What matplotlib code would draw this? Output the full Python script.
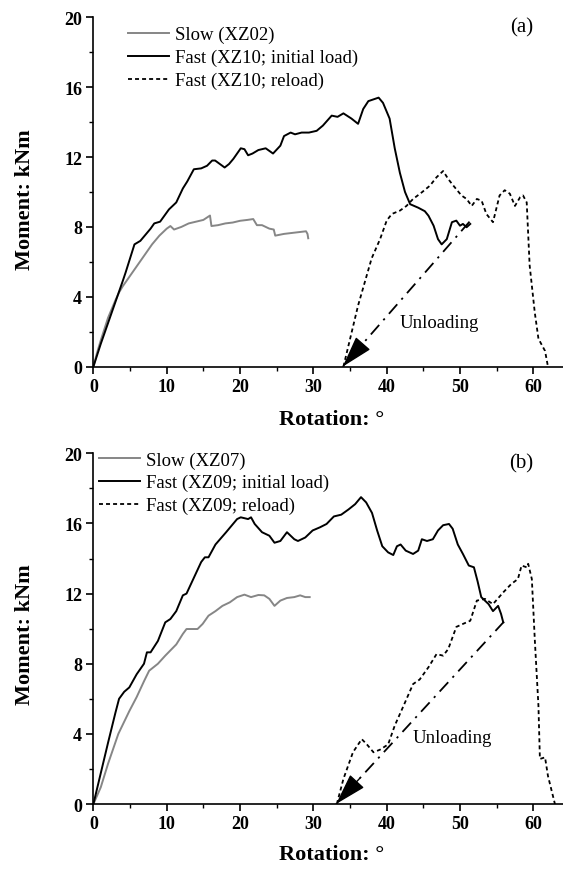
import matplotlib
matplotlib.use("Agg")
import matplotlib.pyplot as plt
import numpy as np

plt.rcParams['font.family'] = ['Liberation Serif', 'DejaVu Serif']

# ---------------- data: panel (a) ----------------
a_slow_x = [0, 0.5, 1, 2, 3, 3.5, 4, 5, 6, 7, 8, 9, 10, 10.5, 11, 12, 13, 14, 15, 15.9, 16.1,
            17, 18, 19, 20, 21, 21.8, 22.3, 23, 24, 24.6, 24.8, 26, 27, 28, 29, 29.2, 29.3]
a_slow_y = [0, 0.8, 1.5, 2.8, 3.8, 4.25, 4.6, 5.2, 5.8, 6.4, 7.0, 7.5, 7.9, 8.05, 7.85, 8.0, 8.2,
            8.3, 8.4, 8.65, 8.05, 8.1, 8.2, 8.25, 8.35, 8.4, 8.45, 8.1, 8.1, 7.9, 7.85, 7.5, 7.6,
            7.65, 7.7, 7.75, 7.6, 7.35]

a_fast_x = [0, 1, 2, 3, 4, 4.4, 5, 5.6, 6.4, 7, 7.8, 8.3, 9.1, 10.3, 11.3, 12.2, 12.8, 13.7, 14.7,
            15.5, 16.2, 16.6, 17.9, 18.5, 19.1, 20.1, 20.6, 21.1, 21.7, 22.5, 23.5, 24.5, 25.5, 26.0,
            26.9, 27.5, 28.4, 29.4, 30.45, 31.3, 32.5, 33.3, 34.1, 35.2, 36.1, 36.8, 37.5, 38.2,
            38.9, 39.5, 40.4, 41.1, 41.8, 42.5, 43.2, 44.3, 45.2, 45.7, 46.4, 47.0, 47.5, 48.2,
            48.9, 49.5, 50.0, 50.4, 50.9, 51.4]
a_fast_y = [0, 1.3, 2.5, 3.7, 4.9, 5.4, 6.2, 7.0, 7.2, 7.5, 7.9, 8.2, 8.3, 9.0, 9.4, 10.2, 10.6,
            11.3, 11.35, 11.5, 11.8, 11.8, 11.4, 11.6, 11.9, 12.5, 12.45, 12.1, 12.2, 12.4, 12.5,
            12.2, 12.65, 13.2, 13.4, 13.3, 13.4, 13.4, 13.5, 13.8, 14.37, 14.3, 14.5, 14.2, 13.9,
            14.75, 15.2, 15.3, 15.4, 15.1, 14.2, 12.5, 11.1, 10.0, 9.3, 9.1, 8.9, 8.64, 8.07, 7.3,
            7.0, 7.3, 8.27, 8.36, 8.07, 8.17, 7.98, 8.17]

a_reload_x = [34.1, 36.1, 37.95, 39.1, 40.0, 40.7, 41.8, 42.7, 43.6, 44.8, 45.9, 46.8, 47.7, 48.4,
              49.1, 50.2, 50.9, 51.6, 52.3, 52.95, 53.6, 54.5, 55.4, 56.1, 56.8, 57.5, 58.2, 58.6,
              59.1, 59.5, 60.2, 60.7, 61.6, 62.0]
a_reload_y = [0, 3.5, 6.2, 7.3, 8.36, 8.74, 8.93, 9.2, 9.6, 9.98, 10.36, 10.84, 11.2, 10.74, 10.36,
              9.8, 9.6, 9.2, 9.6, 9.5, 8.74, 8.27, 9.8, 10.1, 9.9, 9.2, 9.7, 9.8, 9.4, 5.8, 3.1,
              1.6, 0.9, 0.0]

a_unload_x = [51.3, 34.0]
a_unload_y = [8.3, 0.0]

# ---------------- data: panel (b) ----------------
b_slow_x = [0, 1, 2, 3.4, 4.9, 5.9, 6.9, 7.6, 8.8, 9.8, 11.3, 12.2, 12.7, 14.2, 14.9, 15.7, 16.65,
            17.6, 18.6, 19.6, 20.6, 21.5, 22.5, 23.3, 24.0, 24.7, 25.5, 26.4, 27.4, 28.2, 28.9, 29.5]
b_slow_y = [0, 0.95, 2.3, 4.0, 5.3, 6.1, 7.0, 7.6, 8.0, 8.46, 9.1, 9.7, 9.98, 9.98, 10.27, 10.74,
            11.0, 11.3, 11.5, 11.8, 11.94, 11.8, 11.92, 11.9, 11.7, 11.3, 11.6, 11.75, 11.8, 11.9,
            11.8, 11.8]

b_fast_x = [0, 1, 2, 3, 3.5, 4.2, 4.9, 5.9, 6.9, 7.3, 7.8, 8.8, 9.8, 10.5, 11.3, 12.2, 12.7, 13.7,
            14.7, 15.2, 15.7, 16.65, 18.1, 19.6, 20.1, 21.1, 21.5, 22.0, 23.0, 24.0, 24.7, 25.5,
            26.4, 27.4, 27.9, 28.9, 29.9, 30.9, 31.8, 32.8, 33.8, 34.8, 35.7, 36.5, 37.2, 38.0,
            38.7, 39.4, 40.2, 40.9, 41.4, 41.9, 42.6, 43.6, 44.3, 44.8, 45.5, 46.3, 47.0, 47.7,
            48.5, 49.0, 49.7, 50.4, 51.2, 51.9, 52.4, 52.9, 53.9, 54.5, 55.2, 55.6, 55.9]
b_fast_y = [0, 1.75, 3.5, 5.2, 6.0, 6.4, 6.65, 7.4, 8.0, 8.65, 8.65, 9.3, 10.36, 10.55, 11.0, 11.9,
            12.0, 12.9, 13.8, 14.07, 14.07, 14.8, 15.5, 16.25, 16.35, 16.25, 16.35, 15.97, 15.5,
            15.3, 14.9, 15.0, 15.5, 15.1, 15.0, 15.2, 15.6, 15.78, 15.97, 16.4, 16.5, 16.8, 17.1,
            17.5, 17.2, 16.6, 15.6, 14.7, 14.35, 14.2, 14.7, 14.8, 14.45, 14.26, 14.45, 15.1, 15.0,
            15.1, 15.6, 15.9, 15.97, 15.7, 14.8, 14.26, 13.6, 13.5, 12.7, 11.8, 11.4, 11.0, 11.3,
            10.84, 10.36]

b_reload_x = [33.2, 34.1, 35.4, 36.6, 37.3, 38.2, 39.1, 40.2, 41.1, 42.3, 43.6, 44.5, 45.7, 46.8,
              47.7, 48.4, 49.5, 50.4, 51.4, 52.3, 53.4, 54.5, 55.9, 57.0, 57.9, 58.4, 59.1, 59.3,
              59.8, 60.2, 60.7, 60.9, 61.6, 62.0, 62.95]
b_reload_y = [0, 1.43, 2.95, 3.7, 3.4, 2.95, 3.1, 3.4, 4.47, 5.6, 6.84, 7.1, 7.8, 8.55, 8.46, 8.84,
              10.1, 10.27, 10.45, 11.6, 11.7, 11.4, 12.07, 12.55, 12.83, 13.6, 13.5, 13.7, 12.83,
              9.4, 5.6, 2.57, 2.66, 1.6, 0.0]

b_unload_x = [56.0, 33.1]
b_unload_y = [10.4, 0.0]

labels_a = ["Slow (XZ02)", "Fast (XZ10; initial load)", "Fast (XZ10; reload)"]
labels_b = ["Slow (XZ07)", "Fast (XZ09; initial load)", "Fast (XZ09; reload)"]
xticks = [0, 10, 20, 30, 40, 50, 60]
yticks = [0, 4, 8, 12, 16, 20]

GRAY = '#868686'
DASH = (0, (2.2, 1.7))
DASHDOT = (0, (7, 3.5, 1.2, 3.5))

fig = plt.figure(figsize=(5.63, 8.70), dpi=100)
ax_a = fig.add_axes([0.1659, 0.5774, 0.8341, 0.4016])
ax_b = fig.add_axes([0.1659, 0.0747, 0.8341, 0.4031])


def draw(ax, sx, sy, fx, fy, rx, ry, ux, uy, labels, tag, unl_xy, leg_anchor, xlab_y, ylab_y):
    ax.plot(sx, sy, color=GRAY, lw=1.4, label=labels[0])
    ax.plot(fx, fy, color='black', lw=1.4, label=labels[1])
    ax.plot(rx, ry, color='black', lw=1.3, linestyle=DASH, label=labels[2])
    ax.plot(ux, uy, color='black', lw=1.3, linestyle=DASHDOT)
    # arrow head at the end of the unloading line
    dx = ux[0] - ux[1]
    dy = uy[0] - uy[1]
    t = 0.14
    ax.annotate('', xy=(ux[1], uy[1]), xytext=(ux[1] + dx * t, uy[1] + dy * t),
                arrowprops=dict(arrowstyle='-|>,head_length=2.0,head_width=0.6',
                                mutation_scale=10, color='black', lw=1.0,
                                shrinkA=0, shrinkB=0),
                annotation_clip=False)
    ax.set_xlim(0, 64.05)
    ax.set_ylim(0, 20)
    ax.spines['top'].set_visible(False)
    ax.spines['right'].set_visible(False)
    for s in ('left', 'bottom'):
        ax.spines[s].set_linewidth(1.2)
    ax.set_xticks(xticks)
    ax.set_yticks(yticks)
    ax.set_xticks(np.arange(5, 64, 10), minor=True)
    ax.set_yticks(np.arange(2, 20, 4), minor=True)
    ax.tick_params(which='major', direction='out', length=4.8, width=1.2, labelsize=13, pad=3.3)
    ax.tick_params(which='minor', direction='out', length=3, width=1.0)
    for lab in ax.get_xticklabels() + ax.get_yticklabels():
        lab.set_fontweight('bold')
    ax.set_xlabel('Rotation: °', fontsize=16, fontweight='bold')
    ax.xaxis.set_label_coords(0.508, xlab_y)
    ax.xaxis.label.set_va('center')
    ax.set_ylabel('Moment: kNm', fontsize=16, fontweight='bold')
    ax.yaxis.set_label_coords(-0.146, ylab_y)
    ax.yaxis.label.set_va('center')
    ax.text(0.912, tag[1], tag[0], transform=ax.transAxes, fontsize=15,
            ha='center', va='center')
    ax.text(unl_xy[0], unl_xy[1], 'Unloading', fontsize=13.5, ha='left', va='center')
    leg = ax.legend(loc='upper left', bbox_to_anchor=leg_anchor, frameon=False,
                    fontsize=13.5, handlelength=2.2, handletextpad=0.3,
                    labelspacing=0.3, borderpad=0, borderaxespad=0)
    return leg


draw(ax_a, a_slow_x, a_slow_y, a_fast_x, a_fast_y, a_reload_x, a_reload_y,
     a_unload_x, a_unload_y, labels_a, ('(a)', 0.972), (41.7, 2.5), (0.0737, 0.9745),
     -0.150, 0.48)
draw(ax_b, b_slow_x, b_slow_y, b_fast_x, b_fast_y, b_reload_x, b_reload_y,
     b_unload_x, b_unload_y, labels_b, ('(b)', 0.974), (43.6, 3.8), (0.0113, 1.006),
     -0.143, 0.485)

fig.savefig('out.png', dpi=100)
